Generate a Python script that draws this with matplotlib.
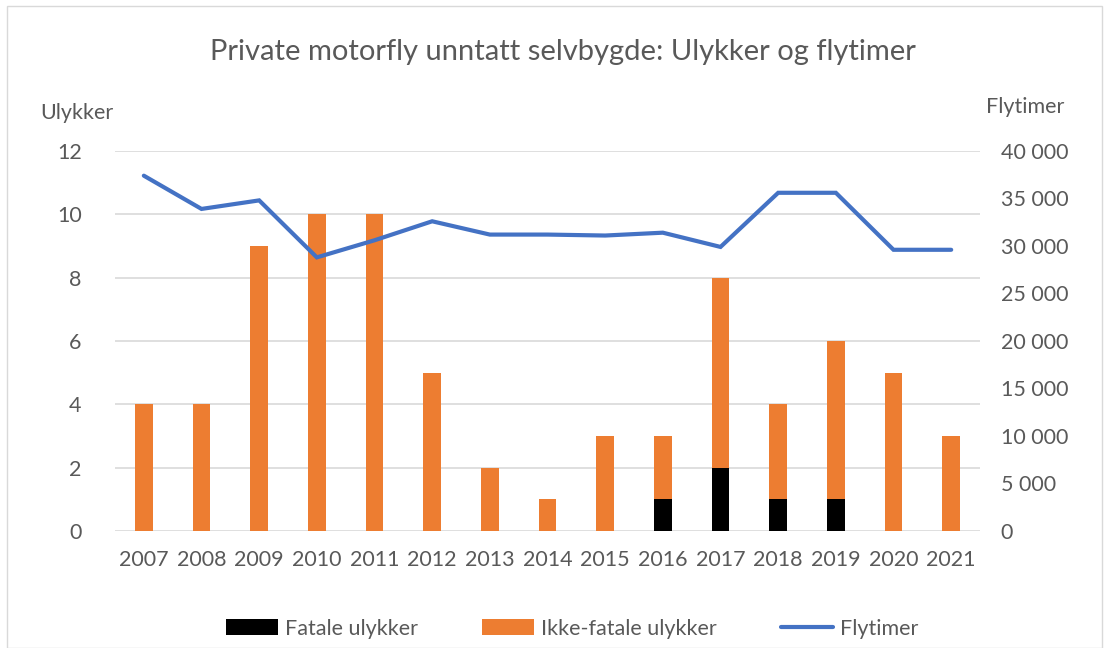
import matplotlib
matplotlib.use("Agg")
import matplotlib.pyplot as plt
from matplotlib.patches import Rectangle
from matplotlib.ticker import FuncFormatter
import numpy as np

plt.rcParams['font.family'] = ['Lato', 'DejaVu Sans']

years = ['2007', '2008', '2009', '2010', '2011', '2012', '2013', '2014',
         '2015', '2016', '2017', '2018', '2019', '2020', '2021']
fatal = [0, 0, 0, 0, 0, 0, 0, 0, 0, 1, 2, 1, 1, 0, 0]
nonfatal = [4, 4, 9, 10, 10, 5, 2, 1, 3, 2, 6, 3, 5, 5, 3]
flytimer = [37400, 33900, 34800, 28800, 30600, 32600, 31200, 31200,
            31100, 31400, 29900, 35600, 35600, 29600, 29600]

title = 'Private motorfly unntatt selvbygde: Ulykker og flytimer'
left_label = 'Ulykker'
right_label = 'Flytimer'
legend_labels = ['Fatale ulykker', 'Ikke-fatale ulykker', 'Flytimer']

c_fatal = '#000000'
c_non = '#ED7D31'
c_line = '#4472C4'
c_text = '#595959'
c_grid = '#D9D9D9'

fs = 15.5

fig = plt.figure(figsize=(11.09, 6.48), dpi=100)
fig.patches.append(Rectangle((0.006, 0.0), 0.988, 0.99, transform=fig.transFigure,
                             fill=False, edgecolor='#D9D9D9', linewidth=1))

ax = fig.add_axes([0.1037, 0.1806, 0.78, 0.5864])
x = np.arange(len(years))
w = 0.31
b1 = ax.bar(x, fatal, width=w, color=c_fatal, zorder=2)
b2 = ax.bar(x, nonfatal, width=w, bottom=fatal, color=c_non, zorder=2)
ax.set_ylim(0, 12)
ax.set_yticks(range(0, 13, 2))
ax.set_xlim(-0.5, len(years) - 0.5)
ax.set_xticks(x)
ax.set_xticklabels(years)
ax.grid(axis='y', color=c_grid, linewidth=1.2, zorder=0)
ax.set_axisbelow(True)
for s in ax.spines.values():
    s.set_visible(False)
ax.tick_params(axis='both', length=0, labelsize=fs, colors=c_text, labelcolor=c_text)
ax.tick_params(axis='x', pad=14)
ax.tick_params(axis='y', pad=24)

ax2 = ax.twinx()
l, = ax2.plot(x, flytimer, color=c_line, linewidth=3, solid_capstyle='round',
              solid_joinstyle='miter', zorder=3)
ax2.set_ylim(0, 40000)
ax2.set_yticks(range(0, 40001, 5000))
ax2.yaxis.set_major_formatter(FuncFormatter(lambda v, p: f'{int(v):,}'.replace(',', '\u00a0')))
for s in ax2.spines.values():
    s.set_visible(False)
ax2.tick_params(axis='y', length=0, labelsize=fs, colors=c_text, labelcolor=c_text, pad=15)

fig.text(0.508, 0.92, title, ha='center', va='center', fontsize=21, color=c_text)
fig.text(0.036, 0.825, left_label, ha='left', va='center', fontsize=fs, color=c_text)
fig.text(0.96, 0.835, right_label, ha='right', va='center', fontsize=fs, color=c_text)

fig.legend([b1, b2, l], legend_labels, loc='center', bbox_to_anchor=(0.516, 0.03),
           ncol=3, frameon=False, fontsize=fs, labelcolor=c_text,
           columnspacing=3.0, handlelength=2.4, handletextpad=0.33)

fig.savefig('out.png', dpi=100)
